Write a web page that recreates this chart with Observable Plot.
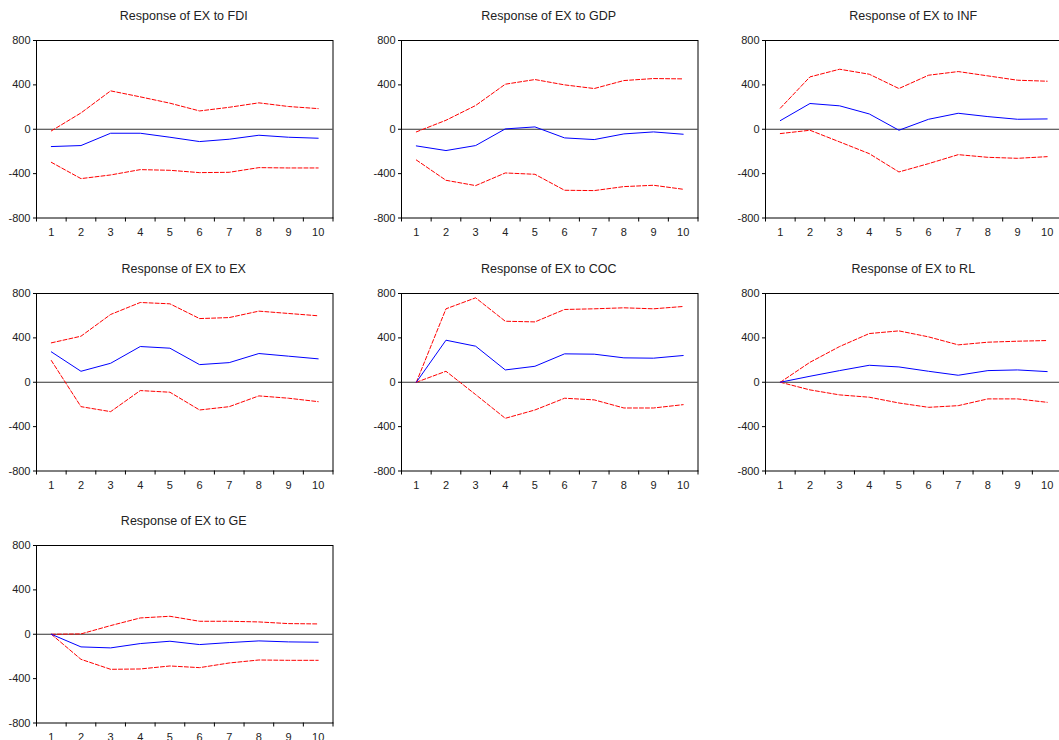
<!DOCTYPE html>
<html><head><meta charset="utf-8">
<script src="https://cdn.jsdelivr.net/npm/d3@7"></script>
<script src="https://cdn.jsdelivr.net/npm/@observablehq/plot@0.6"></script>
<style>
body{margin:0;background:#fff;}
#chart{position:relative;width:1059px;height:740px;overflow:hidden;font-family:"Liberation Sans",Arial,sans-serif;}
.panel{position:absolute;overflow:visible;}
.title{position:absolute;font-size:12.5px;line-height:14px;color:#222;text-align:center;white-space:nowrap;}
</style></head>
<body><div id="chart"></div>
<script>
const periods = [1,2,3,4,5,6,7,8,9,10];
const yTicks = [-800,-400,0,400,800];
const shocks = ["FDI","GDP","INF","EX","COC","RL","GE"];

const respFDI  = [-156,-147,-36,-36,-72,-111,-90,-54,-72,-81];
const upperFDI = [-15,147,346,292,235,165,198,238,205,186];
const lowerFDI = [-298,-445,-412,-364,-370,-391,-388,-346,-349,-349];

const respGDP  = [-150,-192,-147,3,21,-78,-93,-42,-24,-45];
const upperGDP = [-24,81,214,406,448,400,367,439,457,454];
const lowerGDP = [-277,-460,-508,-394,-406,-550,-553,-517,-505,-541];

const respINF  = [78,232,211,138,-9,90,144,114,90,93];
const upperINF = [190,472,541,496,367,487,520,481,442,433];
const lowerINF = [-39,-9,-114,-220,-385,-310,-229,-253,-262,-247];

const respEX   = [274,99,171,322,307,159,177,259,235,211];
const upperEX  = [355,415,611,719,707,574,583,641,620,599];
const lowerEX  = [196,-220,-265,-75,-90,-250,-220,-123,-144,-175];

const respCOC  = [0,379,325,111,144,256,253,220,217,241];
const upperCOC = [0,662,761,550,544,656,662,671,662,683];
const lowerCOC = [0,99,-111,-325,-250,-144,-159,-232,-232,-202];

const respRL   = [0,54,105,153,138,99,63,105,111,96];
const upperRL  = [0,180,322,439,463,409,337,361,370,376];
const lowerRL  = [0,-69,-114,-135,-187,-226,-211,-150,-150,-181];

const respGE   = [0,-114,-123,-84,-63,-93,-75,-60,-69,-72];
const upperGE  = [0,3,78,147,162,117,117,111,96,93];
const lowerGE  = [0,-226,-316,-313,-286,-301,-259,-232,-235,-235];

const series = {
  FDI: [respFDI, upperFDI, lowerFDI],
  GDP: [respGDP, upperGDP, lowerGDP],
  INF: [respINF, upperINF, lowerINF],
  EX:  [respEX, upperEX, lowerEX],
  COC: [respCOC, upperCOC, lowerCOC],
  RL:  [respRL, upperRL, lowerRL],
  GE:  [respGE, upperGE, lowerGE]
};

const chart = document.getElementById("chart");
const FW = 296.5, FH = 177.5;
const ML = 40, MR = 4, MT = 10, MB = 26;
const colLeft = [35.5, 400.5, 765];
const rowTop = [39.5, 292.5, 545];
const bounds = [0.5, ...periods.map(p => p + 0.5)];

shocks.forEach((s, k) => {
  const c = k % 3, r = Math.floor(k / 3);
  const [resp, upper, lower] = series[s];
  const rows = periods.map((p, i) => ({period: p, resp: resp[i], upper: upper[i], lower: lower[i]}));
  const svg = Plot.plot({
    width: ML + FW + MR,
    height: MT + FH + MB,
    marginLeft: ML, marginRight: MR, marginTop: MT, marginBottom: MB,
    style: {background: "transparent", color: "#222", fontFamily: "'Liberation Sans', Arial, sans-serif", fontSize: "11px"},
    x: {type: "linear", domain: [0.5, 10.5], label: null},
    y: {domain: [-800, 800], label: null},
    marks: [
      Plot.ruleY([0], {stroke: "#333", strokeWidth: 1}),
      Plot.line(rows, {x: "period", y: "upper", stroke: "#ff0000", strokeWidth: 1, strokeDasharray: "4,2"}),
      Plot.line(rows, {x: "period", y: "lower", stroke: "#ff0000", strokeWidth: 1, strokeDasharray: "4,2"}),
      Plot.line(rows, {x: "period", y: "resp", stroke: "#0000ff", strokeWidth: 1}),
      Plot.frame({stroke: "#000", strokeWidth: 1}),
      Plot.axisX({ticks: bounds, tickSize: 4, tickFormat: () => "", stroke: "#000", label: null}),
      Plot.axisX({ticks: periods, tickSize: 0, tickPadding: 10, tickFormat: d => String(d), fontSize: 11, label: null}),
      Plot.axisY({ticks: yTicks, tickSize: 3, tickPadding: 3, tickFormat: d => String(d), stroke: "#000", fontSize: 11, label: null})
    ]
  });
  svg.classList.add("panel");
  svg.style.left = (colLeft[c] - ML) + "px";
  svg.style.top = (rowTop[r] - MT) + "px";
  chart.appendChild(svg);

  const t = document.createElement("div");
  t.className = "title";
  t.textContent = "Response of EX to " + s;
  t.style.left = colLeft[c] + "px";
  t.style.width = FW + "px";
  t.style.top = (rowTop[r] - 31) + "px";
  chart.appendChild(t);
});
</script>
</body></html>
